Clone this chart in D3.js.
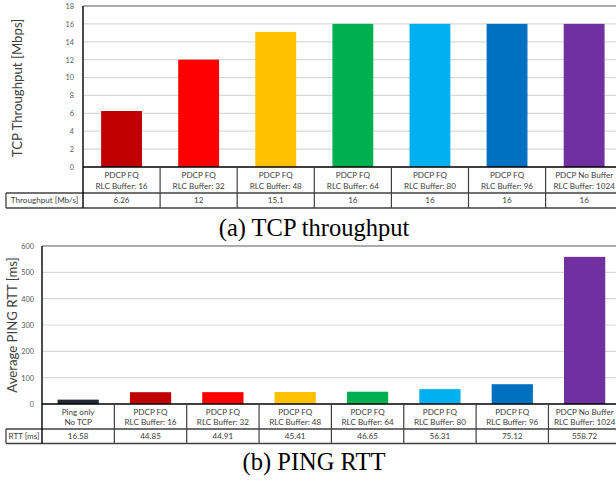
<!DOCTYPE html>
<html>
<head>
<meta charset="utf-8">
<script src="https://cdn.jsdelivr.net/npm/d3@7"></script>
<style>
  html, body { margin: 0; padding: 0; background: #fff; }
  svg { display: block; }
  .sans { font-family: Lato, "Open Sans", sans-serif; }
  .caption { font-family: "Liberation Serif", "Times New Roman", serif; }
</style>
</head>
<body>
<svg id="chart" width="616" height="481"></svg>
<script>
// ---- TCP throughput data ----
const tcpLine1 = ["PDCP FQ", "PDCP FQ", "PDCP FQ", "PDCP FQ", "PDCP FQ", "PDCP FQ", "PDCP No Buffer"];
const tcpLine2 = ["RLC Buffer: 16", "RLC Buffer: 32", "RLC Buffer: 48", "RLC Buffer: 64", "RLC Buffer: 80", "RLC Buffer: 96", "RLC Buffer: 1024"];
const tcpValues = [6.26, 12, 15.1, 16, 16, 16, 16];
const tcpLabels = ["6.26", "12", "15.1", "16", "16", "16", "16"];
const tcpColors = ["#C00000", "#FF0000", "#FFC000", "#00B050", "#00B0F0", "#0070C0", "#7030A0"];
const tcpTicks = [0, 2, 4, 6, 8, 10, 12, 14, 16, 18];

// ---- PING RTT data ----
const rttLine1 = ["Ping only", "PDCP FQ", "PDCP FQ", "PDCP FQ", "PDCP FQ", "PDCP FQ", "PDCP FQ", "PDCP No Buffer"];
const rttLine2 = ["No TCP", "RLC Buffer: 16", "RLC Buffer: 32", "RLC Buffer: 48", "RLC Buffer: 64", "RLC Buffer: 80", "RLC Buffer: 96", "RLC Buffer: 1024"];
const rttValues = [16.58, 44.85, 44.91, 45.41, 46.65, 56.31, 75.12, 558.72];
const rttLabels = ["16.58", "44.85", "44.91", "45.41", "46.65", "56.31", "75.12", "558.72"];
const rttColors = ["#222A35", "#C00000", "#FF0000", "#FFC000", "#00B050", "#00B0F0", "#0070C0", "#7030A0"];
const rttTicks = [0, 100, 200, 300, 400, 500, 600];

const svg = d3.select("#chart");
const TABLE_FONT = 8.1;

function drawPanel(cfg) {
  const g = svg.append("g");
  const n = cfg.values.length;
  const ids = d3.range(n);
  const x = d3.scaleBand().domain(ids)
    .range([cfg.left, cfg.left + n * cfg.step])
    .paddingInner(cfg.pad).paddingOuter(cfg.pad / 2);
  const cols = d3.scaleBand().domain(ids).range([cfg.left, cfg.left + n * cfg.step]).padding(0);
  const y = d3.scaleLinear().domain([0, cfg.max]).range([cfg.bottom, cfg.top]);
  const right = 616;

  // gridlines
  g.selectAll(".grid").data(cfg.ticks.filter(t => t > 0 && t < cfg.max)).join("line")
    .attr("x1", cfg.left).attr("x2", right)
    .attr("y1", d => y(d)).attr("y2", d => y(d))
    .attr("stroke", "#D9D9D9").attr("stroke-width", 1.2);
  // top frame line
  g.append("line").attr("x1", cfg.left).attr("x2", right)
    .attr("y1", y(cfg.max)).attr("y2", y(cfg.max))
    .attr("stroke", "#595959").attr("stroke-width", 1.2);

  // y axis tick labels
  const axis = d3.axisLeft(y).tickValues(cfg.ticks).tickSize(0).tickPadding(cfg.tickPad);
  const ag = g.append("g").attr("transform", `translate(${cfg.left},0)`).call(axis);
  ag.select(".domain").remove();
  ag.selectAll("text").attr("class", "sans").attr("font-size", 7.3).attr("fill", "#595959");

  // bars
  g.selectAll(".bar").data(cfg.values).join("rect")
    .attr("x", (d, i) => x(i)).attr("width", x.bandwidth())
    .attr("y", d => y(d)).attr("height", d => y(0) - y(d))
    .attr("fill", (d, i) => cfg.colors[i]);

  // data table
  const r0 = cfg.bottom, r1 = cfg.row1, r2 = cfg.row2;
  const line = (x1, y1, x2, y2, c, w) => g.append("line")
    .attr("x1", x1).attr("y1", y1).attr("x2", x2).attr("y2", y2)
    .attr("stroke", c).attr("stroke-width", w);
  line(cfg.left, r0, right, r0, "#000", 1.3);
  line(cfg.labelX, r1, right, r1, "#404040", 1.3);
  line(cfg.labelX, r2, right, r2, "#404040", 1.3);
  line(cfg.labelX, r1, cfg.labelX, r2, "#404040", 1.3);
  line(cfg.left, cfg.top, cfg.left, r2, "#000", 1.4);
  ids.forEach(i => {
    const xr = cols(i) + cols.bandwidth();
    if (xr < right) line(xr, r0, xr, r2, "#404040", 1.2);
  });

  const cx = i => cols(i) + cols.bandwidth() / 2;
  g.selectAll(".c1").data(cfg.line1).join("text").attr("class", "sans")
    .attr("x", (d, i) => cx(i)).attr("y", r0 + (r1 - r0) * 0.31)
    .attr("dy", "0.35em").attr("text-anchor", "middle")
    .attr("font-size", TABLE_FONT).attr("fill", "#404040").text(d => d);
  g.selectAll(".c2").data(cfg.line2).join("text").attr("class", "sans")
    .attr("x", (d, i) => cx(i)).attr("y", r0 + (r1 - r0) * 0.74)
    .attr("dy", "0.35em").attr("text-anchor", "middle")
    .attr("font-size", TABLE_FONT).attr("fill", "#404040").text(d => d);
  g.selectAll(".vl").data(cfg.labels).join("text").attr("class", "sans")
    .attr("x", (d, i) => cx(i)).attr("y", (r1 + r2) / 2)
    .attr("dy", "0.35em").attr("text-anchor", "middle")
    .attr("font-size", TABLE_FONT).attr("fill", "#404040").text(d => d);
  g.append("text").attr("class", "sans")
    .attr("x", (cfg.labelX + cfg.left) / 2).attr("y", (r1 + r2) / 2)
    .attr("dy", "0.35em").attr("text-anchor", "middle")
    .attr("font-size", TABLE_FONT).attr("fill", "#404040").text(cfg.rowLabel);

  // y title
  g.append("text").attr("class", "sans")
    .attr("transform", `translate(${cfg.titleX},${cfg.titleY}) rotate(-90)`)
    .attr("text-anchor", "middle").attr("dy", "0.35em")
    .attr("font-size", 13.2).attr("fill", "#404040").text(cfg.yTitle);

  // caption
  svg.append("text").attr("class", "caption")
    .attr("x", cfg.captionX).attr("y", cfg.captionY)
    .attr("text-anchor", "middle").attr("font-size", 24.5).attr("fill", "#000")
    .text(cfg.caption);
}

drawPanel({
  values: tcpValues, labels: tcpLabels, colors: tcpColors, line1: tcpLine1, line2: tcpLine2,
  ticks: tcpTicks, max: 18, left: 83, step: 77.1, pad: 0.47, top: 6, bottom: 167,
  row1: 193, row2: 208, labelX: 6, rowLabel: "Throughput [Mb/s]", tickPad: 9,
  titleX: 17, titleY: 88, yTitle: "TCP Throughput [Mbps]",
  caption: "(a) TCP throughput", captionX: 314, captionY: 236
});

drawPanel({
  values: rttValues, labels: rttLabels, colors: rttColors, line1: rttLine1, line2: rttLine2,
  ticks: rttTicks, max: 600, left: 42, step: 72.35, pad: 0.43, top: 246, bottom: 404,
  row1: 429, row2: 443.5, labelX: 6, rowLabel: "RTT [ms]", tickPad: 8,
  titleX: 12, titleY: 325, yTitle: "Average PING RTT [ms]",
  caption: "(b) PING RTT", captionX: 314, captionY: 470
});
</script>
</body>
</html>
